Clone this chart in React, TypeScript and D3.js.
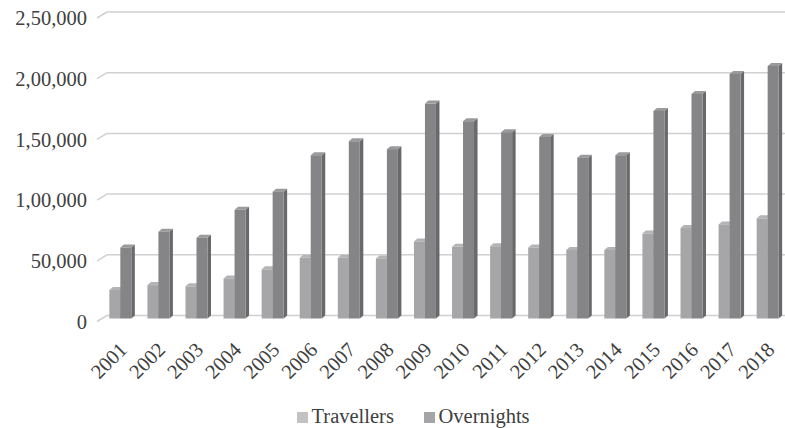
import React from "react";
import * as d3 from "d3";

// Annual counts per year
const years = ["2001","2002","2003","2004","2005","2006","2007","2008","2009","2010","2011","2012","2013","2014","2015","2016","2017","2018"];
const travellers = [23500,27500,26500,33000,40500,50000,50000,49500,63500,59000,59500,58500,56500,56500,70000,74500,77500,82500];
const overnights = [58500,71500,66500,89500,104500,134500,146000,139500,177000,162500,153500,149500,132500,134500,171000,185000,201500,208000];
const yTicks = [0,50000,100000,150000,200000,250000];
const seriesNames = ["Travellers","Overnights"];

const W = 785;
const H = 428;
const FONT = "'Liberation Serif', 'Times New Roman', serif";

// Perspective offsets: side wall depth and column depth
const WALL_DX = 10;
const WALL_DY = 6;
const COL_DX = 3.5;
const COL_DY = 3;

const fmt = (v: number) => {
  if (v === 0) return "0";
  // Indian digit grouping: 2,50,000
  const s = String(v);
  const last3 = s.slice(-3);
  let rest = s.slice(0, -3);
  const parts: string[] = [];
  while (rest.length > 2) {
    parts.unshift(rest.slice(-2));
    rest = rest.slice(0, -2);
  }
  if (rest.length) parts.unshift(rest);
  return parts.join(",") + "," + last3;
};

export default function App() {
  const y = d3.scaleLinear().domain([0, 250000]).range([315.5, 12]);
  const x = d3.scaleBand<string>().domain(years).range([101.3, 786.7]).padding(0);
  const inner = d3.scaleBand<string>().domain(seriesNames).range([0, 22]).padding(0);
  const offset = (x.step() - 22) / 2;

  const fronts = ["#a6a6a8", "#858587"];
  const sides = ["#7b7b7d", "#69696b"];
  const tops = ["#b4b4b6", "#9a9a9c"];
  const wallLeft = 107;
  const wallRight = 785;

  const bars: JSX.Element[] = [];
  years.forEach((yr, i) => {
    [travellers[i], overnights[i]].forEach((v, s) => {
      const x0 = (x(yr) as number) + offset + (inner(seriesNames[s]) as number);
      const w = inner.bandwidth();
      const yt = y(v) + COL_DY;
      const yb = y(0) + COL_DY;
      bars.push(
        <g key={yr + s}>
          <polygon
            points={`${x0 + w},${yt} ${x0 + w + COL_DX},${yt - COL_DY} ${x0 + w + COL_DX},${yb - COL_DY} ${x0 + w},${yb}`}
            fill={sides[s]}
          />
          <polygon
            points={`${x0},${yt} ${x0 + w},${yt} ${x0 + w + COL_DX},${yt - COL_DY} ${x0 + COL_DX},${yt - COL_DY}`}
            fill={tops[s]}
          />
          <rect x={x0} y={yt} width={w} height={yb - yt} fill={fronts[s]} />
        </g>
      );
    });
  });

  return (
    <svg width={W} height={H} style={{ position: "absolute", left: 0, top: 0, background: "#fff" }}>
      {/* wall gridlines */}
      {yTicks.map((t) => (
        <g key={t}>
          <line x1={wallLeft} x2={wallRight} y1={y(t)} y2={y(t)} stroke="#d0d0d0" strokeWidth={1.5} />
          <line x1={wallLeft - WALL_DX} y1={y(t) + WALL_DY} x2={wallLeft} y2={y(t)} stroke="#d0d0d0" strokeWidth={1.5} />
          <text
            x={87}
            y={y(t) + WALL_DY}
            dy="0.35em"
            textAnchor="end"
            fontFamily={FONT}
            fontSize={20.5}
            fill="#404040"
          >
            {fmt(t)}
          </text>
        </g>
      ))}
      {bars}
      {/* category labels */}
      {years.map((yr) => {
        const cx = (x(yr) as number) + x.step() / 2;
        return (
          <text
            key={yr}
            transform={`translate(${cx + 8},${351}) rotate(-45)`}
            textAnchor="end"
            fontFamily={FONT}
            fontSize={20.5}
            fill="#404040"
          >
            {yr}
          </text>
        );
      })}
      {/* legend */}
      {seriesNames.map((n, i) => {
        const lx = i === 0 ? 297 : 424;
        return (
          <g key={n}>
            <rect x={lx} y={412} width={11} height={11} fill={i === 0 ? "#c2c2c4" : "#a5a5a7"} />
            <text x={lx + 14.5} y={423} fontFamily={FONT} fontSize={20.5} fill="#404040">
              {n}
            </text>
          </g>
        );
      })}
    </svg>
  );
}
